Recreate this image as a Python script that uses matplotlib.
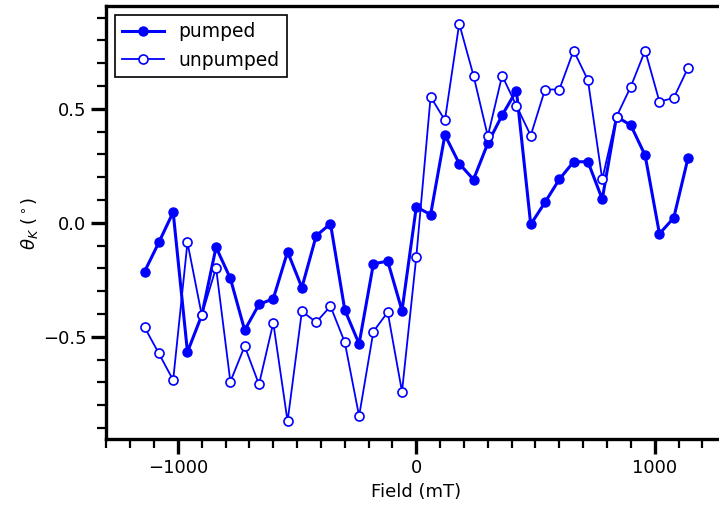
import matplotlib
matplotlib.use("Agg")
import matplotlib.pyplot as plt
from matplotlib.ticker import MultipleLocator

# Applied field (mT)
field = [-1140, -1080, -1020, -960, -900, -840, -780, -720, -660, -600,
         -540, -480, -420, -360, -300, -240, -180, -120, -60, 0,
         60, 120, 180, 240, 300, 360, 420, 480, 540, 600,
         660, 720, 780, 840, 900, 960, 1020, 1080, 1140]

# Kerr rotation (deg) with pump on
pumped = [-0.214, -0.086, 0.047, -0.567, -0.405, -0.107, -0.244, -0.471, -0.358, -0.333,
          -0.127, -0.284, -0.057, -0.004, -0.382, -0.531, -0.180, -0.168, -0.385, 0.070,
          0.036, 0.386, 0.260, 0.190, 0.349, 0.472, 0.580, -0.007, 0.090, 0.191,
          0.268, 0.268, 0.104, 0.466, 0.428, 0.296, -0.048, 0.022, 0.285]

# Kerr rotation (deg) with pump off
unpumped = [-0.458, -0.573, -0.690, -0.086, -0.405, -0.197, -0.697, -0.541, -0.709, -0.439,
            -0.871, -0.388, -0.436, -0.366, -0.524, -0.848, -0.477, -0.392, -0.741, -0.149,
            0.553, 0.450, 0.874, 0.646, 0.380, 0.646, 0.514, 0.383, 0.585, 0.585,
            0.756, 0.626, 0.191, 0.466, 0.598, 0.756, 0.532, 0.548, 0.680]

fig = plt.figure(figsize=(7.19, 5.05), dpi=100)
ax = fig.add_axes([0.148, 0.130, 0.862, 0.8575])

ax.plot(field, pumped, color="#0000ff", lw=2.2, marker="o", ms=6.5,
        mfc="#0000ff", mec="#0000ff", label="pumped")
ax.plot(field, unpumped, color="#0000ff", lw=1.3, marker="o", ms=6.5,
        mfc="white", mec="#0000ff", mew=1.2, label="unpumped")

ax.set_xlim(-1300, 1300)
ax.set_ylim(-0.95, 0.95)
ax.xaxis.set_major_locator(MultipleLocator(1000))
ax.xaxis.set_minor_locator(MultipleLocator(100))
ax.yaxis.set_major_locator(MultipleLocator(0.5))
ax.yaxis.set_minor_locator(MultipleLocator(0.1))

for s in ax.spines.values():
    s.set_linewidth(2.4)
ax.tick_params(which="major", direction="out", length=11, width=2.4, labelsize=13)
ax.tick_params(which="minor", direction="out", length=6.5, width=1.6)

ax.set_xlabel("Field (mT)", fontsize=13)
ax.set_ylabel(r"$\theta_K$ ($^\circ$)", fontsize=13, labelpad=2)

leg = ax.legend(loc="upper left", fontsize=13.5, fancybox=False, framealpha=1,
                edgecolor="black", handlelength=2.2, borderaxespad=0.45)
leg.get_frame().set_linewidth(1.2)

fig.savefig("out.png", dpi=100)
